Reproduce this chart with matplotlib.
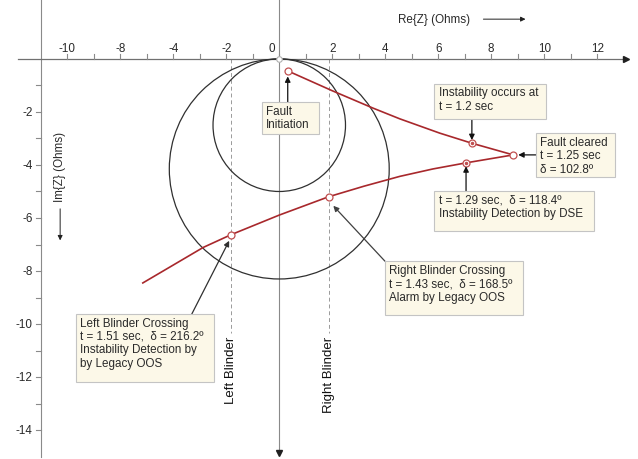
import numpy as np
import matplotlib
matplotlib.use("Agg")
import matplotlib.pyplot as plt
from matplotlib.patches import Rectangle, Circle

plt.rcParams['font.family'] = ['Liberation Sans', 'DejaVu Sans']

# axis ticks (labels as printed on the original figure)
xtick_pos = [-8, -6, -4, -2, 0, 2, 4, 6, 8, 10, 12]
xtick_lbl = ['-10', '-8', '-4', '-2', '0', '2', '4', '6', '8', '10', '12']
xminor = list(range(-8, 13))
ytick_pos = [-2, -4, -6, -8, -10, -12, -14]
yminor = list(range(-1, -15, -1))

# mho circles (center x, center y, radius)
circ_cx = [0.0, 0.0]
circ_cy = [-4.15, -2.5]
circ_r = [4.15, 2.5]

# blinders
blinder_x = [-1.82, 1.86]
blinder_lbl = ['Left Blinder', 'Right Blinder']

# impedance trajectory, during fault and after clearing
fault_re = [0.34, 2.0, 3.55, 4.55, 6.06, 7.27, 8.83]
fault_im = [-0.46, -1.20, -1.86, -2.26, -2.80, -3.18, -3.62]
post_re = [8.83, 7.05, 5.8, 4.55, 3.2, 1.86, 0.0, -1.82, -2.87, -5.15]
post_im = [-3.62, -3.92, -4.15, -4.43, -4.80, -5.20, -5.89, -6.63, -7.11, -8.45]

# event points
ev_re = [0.34, 7.27, 8.83, 7.05, 1.86, -1.82]
ev_im = [-0.46, -3.18, -3.62, -3.92, -5.20, -6.63]
ev_dot = [False, True, False, True, False, False]

fig = plt.figure(figsize=(6.38, 4.6), dpi=100)
ax = fig.add_axes([0, 0, 1, 1])
ax.set_xlim(-10.54, 13.54)
ax.set_ylim(-15.09, 2.26)
ax.axis('off')

gray = '#8a8a8a'
red = '#a8282c'
txtc = '#2a2a2a'
fs = 8.4

# axes lines
ax.plot([-9.86, 13.0], [0, 0], color='#707070', lw=0.9, zorder=2)
ax.plot([13.1], [0], marker='>', color='#202020', ms=4, zorder=3)
ax.plot([0, 0], [2.26, -14.75], color=gray, lw=0.8, zorder=1)
ax.plot([0], [-14.85], marker='v', color='#202020', ms=4, zorder=3)
ax.plot([-9, -9], [2.26, -15.0], color=gray, lw=0.8, zorder=1)
ax.plot([0], [0], marker='o', ms=4, mfc='white', mec='#b0b0b0', mew=0.8, zorder=4)

for x in xminor:
    ax.plot([x, x], [0, 0.17], color=gray, lw=0.8)
for x, s in zip(xtick_pos, xtick_lbl):
    xx = x - 0.3 if x == 0 else x
    ax.text(xx, 0.42, s, ha='center', va='center', fontsize=fs, color=txtc)
for y in yminor:
    ax.plot([-9.18, -9], [y, y], color=gray, lw=0.8)
for y in ytick_pos:
    ax.text(-9.3, y, str(y), ha='right', va='center', fontsize=fs, color=txtc)

# axis titles
ax.text(4.5, 1.5, 'Re{Z} (Ohms)', ha='left', va='center', fontsize=fs, color=txtc)
ax.annotate('', xy=(9.4, 1.5), xytext=(7.6, 1.5),
            arrowprops=dict(arrowstyle='-|>', color='#202020', lw=0.7, mutation_scale=7))
ax.text(-8.27, -2.7, 'Im{Z} (Ohms)', ha='center', va='top', rotation=90, fontsize=fs, color=txtc)
ax.annotate('', xy=(-8.27, -6.95), xytext=(-8.27, -5.55),
            arrowprops=dict(arrowstyle='-|>', color='#202020', lw=0.7, mutation_scale=7))

# circles
for cx, cy, r in zip(circ_cx, circ_cy, circ_r):
    ax.add_patch(Circle((cx, cy), r, fill=False, ec='#303030', lw=0.9, zorder=2))

# blinders
for bx, s in zip(blinder_x, blinder_lbl):
    ax.plot([bx, bx], [0, -10.35], color='#9a9a9a', lw=0.7, ls=(0, (4, 3)), zorder=1)
    ax.text(bx, -10.45, s, rotation=90, ha='center', va='top', fontsize=9.5, color='#111111')

# trajectory
ax.plot(fault_re, fault_im, color=red, lw=1.2, zorder=5)
ax.plot(post_re, post_im, color=red, lw=1.2, zorder=5)
for x, y, d in zip(ev_re, ev_im, ev_dot):
    ax.plot([x], [y], marker='o', ms=5, mfc='white', mec='#c05050', mew=0.9, zorder=6)
    if d:
        ax.plot([x], [y], marker='o', ms=1.5, color='#c05050', zorder=7)


def note(x0, x1, ytop, ybot, text):
    ax.add_patch(Rectangle((x0, ybot), x1 - x0, ytop - ybot, fc='#fcf8e8', ec='#c4c4c4',
                           lw=0.8, zorder=8))
    ax.text(x0 + 0.17, ytop - 0.1, text, ha='left', va='top', fontsize=fs, color=txtc,
            linespacing=1.15, zorder=9)


def arrow(x0, y0, x1, y1, c='#111111'):
    ax.annotate('', xy=(x1, y1), xytext=(x0, y0), zorder=7,
                arrowprops=dict(arrowstyle='-|>', color=c, lw=0.9, mutation_scale=8,
                                shrinkA=0, shrinkB=0))


d = '\u03b4'
note(-0.66, 1.51, -1.63, -2.83, 'Fault\nInitiation')
arrow(0.32, -1.63, 0.32, -0.66)
note(5.85, 10.05, -0.94, -2.26, 'Instability occurs at\nt = 1.2 sec')
arrow(7.27, -2.26, 7.27, -3.06)
note(9.69, 12.69, -2.80, -4.46, 'Fault cleared\nt = 1.25 sec\n' + d + ' = 102.8\u00ba')
arrow(9.69, -3.62, 9.02, -3.62)
note(5.85, 11.88, -4.99, -6.48, 't = 1.29 sec,  ' + d + ' = 118.4\u00ba\nInstability Detection by DSE')
arrow(7.05, -4.99, 7.05, -4.05)
note(3.99, 9.21, -7.63, -9.66,
     'Right Blinder Crossing\nt = 1.43 sec,  ' + d + ' = 168.5\u00ba\nAlarm by Legacy OOS')
arrow(3.99, -7.63, 2.04, -5.54, c='#404040')
note(-7.68, -2.46, -9.62, -12.18,
     'Left Blinder Crossing\nt = 1.51 sec,  ' + d + ' = 216.2\u00ba\nInstability Detection by\nby Legacy OOS')
arrow(-3.3, -9.62, -1.89, -6.86, c='#303030')

fig.savefig('out.png', dpi=100)
